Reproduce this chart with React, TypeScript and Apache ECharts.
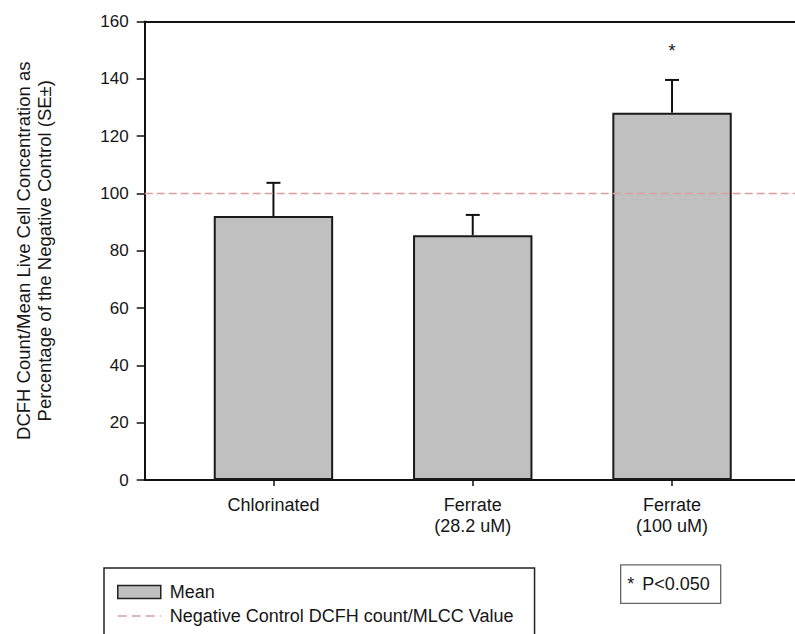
import React, { useEffect, useRef } from "react";
import * as echarts from "echarts";

const categories = ["Chlorinated", "Ferrate\n(28.2 uM)", "Ferrate\n(100 uM)"];
const means = [92.1, 85.4, 128.2];
const errors = [11.6, 7.1, 11.4];
const sigMarks = ["", "", "*"];
const yTicks = [0, 20, 40, 60, 80, 100, 120, 140, 160];
const controlValue = 100;
const meanName = "Mean";
const controlName = "Negative Control DCFH count/MLCC Value";
const pNote = "P<0.050";

const FONT = "'Liberation Sans', Arial, Helvetica, sans-serif";

export default function App() {
  const ref = useRef<HTMLDivElement | null>(null);

  useEffect(() => {
    if (!ref.current) return;
    const chart = echarts.init(ref.current, null, { renderer: "svg" });

    const option: any = {
      animation: false,
      backgroundColor: "#ffffff",
      textStyle: { fontFamily: FONT },
      grid: { left: 144.7, right: 0, top: 21.5, bottom: 154, containLabel: false },
      xAxis: [
        {
          type: "value",
          min: -0.646,
          max: 2.617,
          splitLine: { show: false },
          axisLine: { show: true, onZero: false, lineStyle: { color: "#111", width: 2 } },
          axisTick: {
            show: true,
            customValues: [0, 1, 2],
            length: 6,
            inside: false,
            lineStyle: { color: "#111", width: 1.5 },
          },
          axisLabel: {
            show: true,
            customValues: [0, 1, 2],
            formatter: (v: number) => categories[Math.round(v)] ?? "",
            fontSize: 18,
            lineHeight: 20.5,
            margin: 15,
            color: "#161616",
            fontFamily: FONT,
          },
        },
        {
          type: "value",
          position: "top",
          min: -0.646,
          max: 2.617,
          splitLine: { show: false },
          axisLine: { show: true, onZero: false, lineStyle: { color: "#111", width: 2 } },
          axisTick: { show: false },
          axisLabel: { show: false },
        },
      ],
      yAxis: {
        type: "value",
        min: yTicks[0],
        max: yTicks[yTicks.length - 1],
        interval: 20,
        position: "left",
        splitLine: { show: false },
        axisLine: { show: true, onZero: false, lineStyle: { color: "#111", width: 2 } },
        axisTick: { show: true, length: 8, inside: false, lineStyle: { color: "#111", width: 1.5 } },
        axisLabel: { fontSize: 17, margin: 16, color: "#161616", fontFamily: FONT },
        name: "DCFH Count/Mean Live Cell Concentration as\nPercentage of the Negative Control (SE±)",
        nameLocation: "middle",
        nameRotate: 90,
        nameGap: 90,
        nameTextStyle: { fontSize: 18.5, lineHeight: 20.5, color: "#161616", fontFamily: FONT, align: "center" },
      },
      legend: {
        orient: "vertical",
        left: 104,
        top: 568,
        height: 120,
        padding: [15, 21, 40, 13],
        itemGap: 6,
        itemWidth: 43,
        itemHeight: 13,
        borderColor: "#222",
        borderWidth: 1.5,
        selectedMode: false,
        textStyle: { fontSize: 18, lineHeight: 18, color: "#161616", fontFamily: FONT, padding: [0, 0, 0, 4] },
        data: [
          {
            name: meanName,
            icon: "rect",
            itemStyle: { color: "#c0c0c0", borderColor: "#222", borderWidth: 1.5 },
          },
          {
            name: controlName,
            itemStyle: { color: "rgba(0,0,0,0)", borderColor: "rgba(0,0,0,0)", borderWidth: 0 },
            lineStyle: { color: "#d9a0a0", width: 1.5, type: [9, 5] },
          },
        ],
      },
      series: [
        {
          name: meanName,
          type: "bar",
          xAxisIndex: 0,
          yAxisIndex: 0,
          barWidth: 119.4,
          data: means.map((m, i) => [i, m]),
          itemStyle: { color: "#c0c0c0", borderColor: "#1a1a1a", borderWidth: 2 },
          emphasis: { disabled: true },
          markLine: {
            silent: true,
            symbol: "none",
            z: 5,
            label: { show: false },
            lineStyle: { color: "#d9a0a0", width: 1.3, type: [8, 4] },
            data: [{ yAxis: controlValue }],
          },
        },
        {
          name: controlName,
          type: "line",
          xAxisIndex: 0,
          yAxisIndex: 0,
          symbol: "none",
          data: [],
          lineStyle: { color: "#d9a0a0", width: 1.5, type: [9, 5] },
          itemStyle: { color: "#d9a0a0" },
        },
        {
          name: "error",
          type: "custom",
          xAxisIndex: 0,
          yAxisIndex: 0,
          z: 4,
          silent: true,
          data: means.map((m, i) => [i, m, errors[i]]),
          renderItem: (params: any, api: any) => {
            const x = api.value(0);
            const m = api.value(1);
            const e = api.value(2);
            const p0 = api.coord([x, m]);
            const p1 = api.coord([x, m + e]);
            const ps = api.coord([x, m + e + 10]);
            const lineStyle = { stroke: "#111", lineWidth: 2 };
            const children: any[] = [
              { type: "line", shape: { x1: p0[0], y1: p0[1], x2: p1[0], y2: p1[1] }, style: lineStyle },
              { type: "line", shape: { x1: p1[0] - 7, y1: p1[1], x2: p1[0] + 7, y2: p1[1] }, style: lineStyle },
            ];
            const mark = sigMarks[params.dataIndex];
            if (mark) {
              children.push({
                type: "text",
                x: ps[0],
                y: ps[1],
                style: {
                  text: mark,
                  fontSize: 18,
                  fontFamily: FONT,
                  fill: "#161616",
                  align: "center",
                  verticalAlign: "middle",
                },
              });
            }
            return { type: "group", children };
          },
        },
      ],
      graphic: [
        {
          type: "group",
          left: 620,
          top: 564.3,
          children: [
            {
              type: "rect",
              shape: { x: 0, y: 0, width: 100, height: 38.4 },
              style: { fill: "#fff", stroke: "#666", lineWidth: 1.3 },
            },
            {
              type: "text",
              x: 6.5,
              y: 19,
              style: { text: "*", fontSize: 18, fontFamily: FONT, fill: "#161616", verticalAlign: "middle" },
            },
            {
              type: "text",
              x: 21.5,
              y: 19,
              style: { text: pNote, fontSize: 18, fontFamily: FONT, fill: "#161616", verticalAlign: "middle" },
            },
          ],
        },
      ],
    };

    chart.setOption(option);
    return () => {
      chart.dispose();
    };
  }, []);

  return (
    <div
      ref={ref}
      style={{ position: "fixed", left: 0, top: 0, width: 795, height: 634, background: "#fff" }}
    />
  );
}
